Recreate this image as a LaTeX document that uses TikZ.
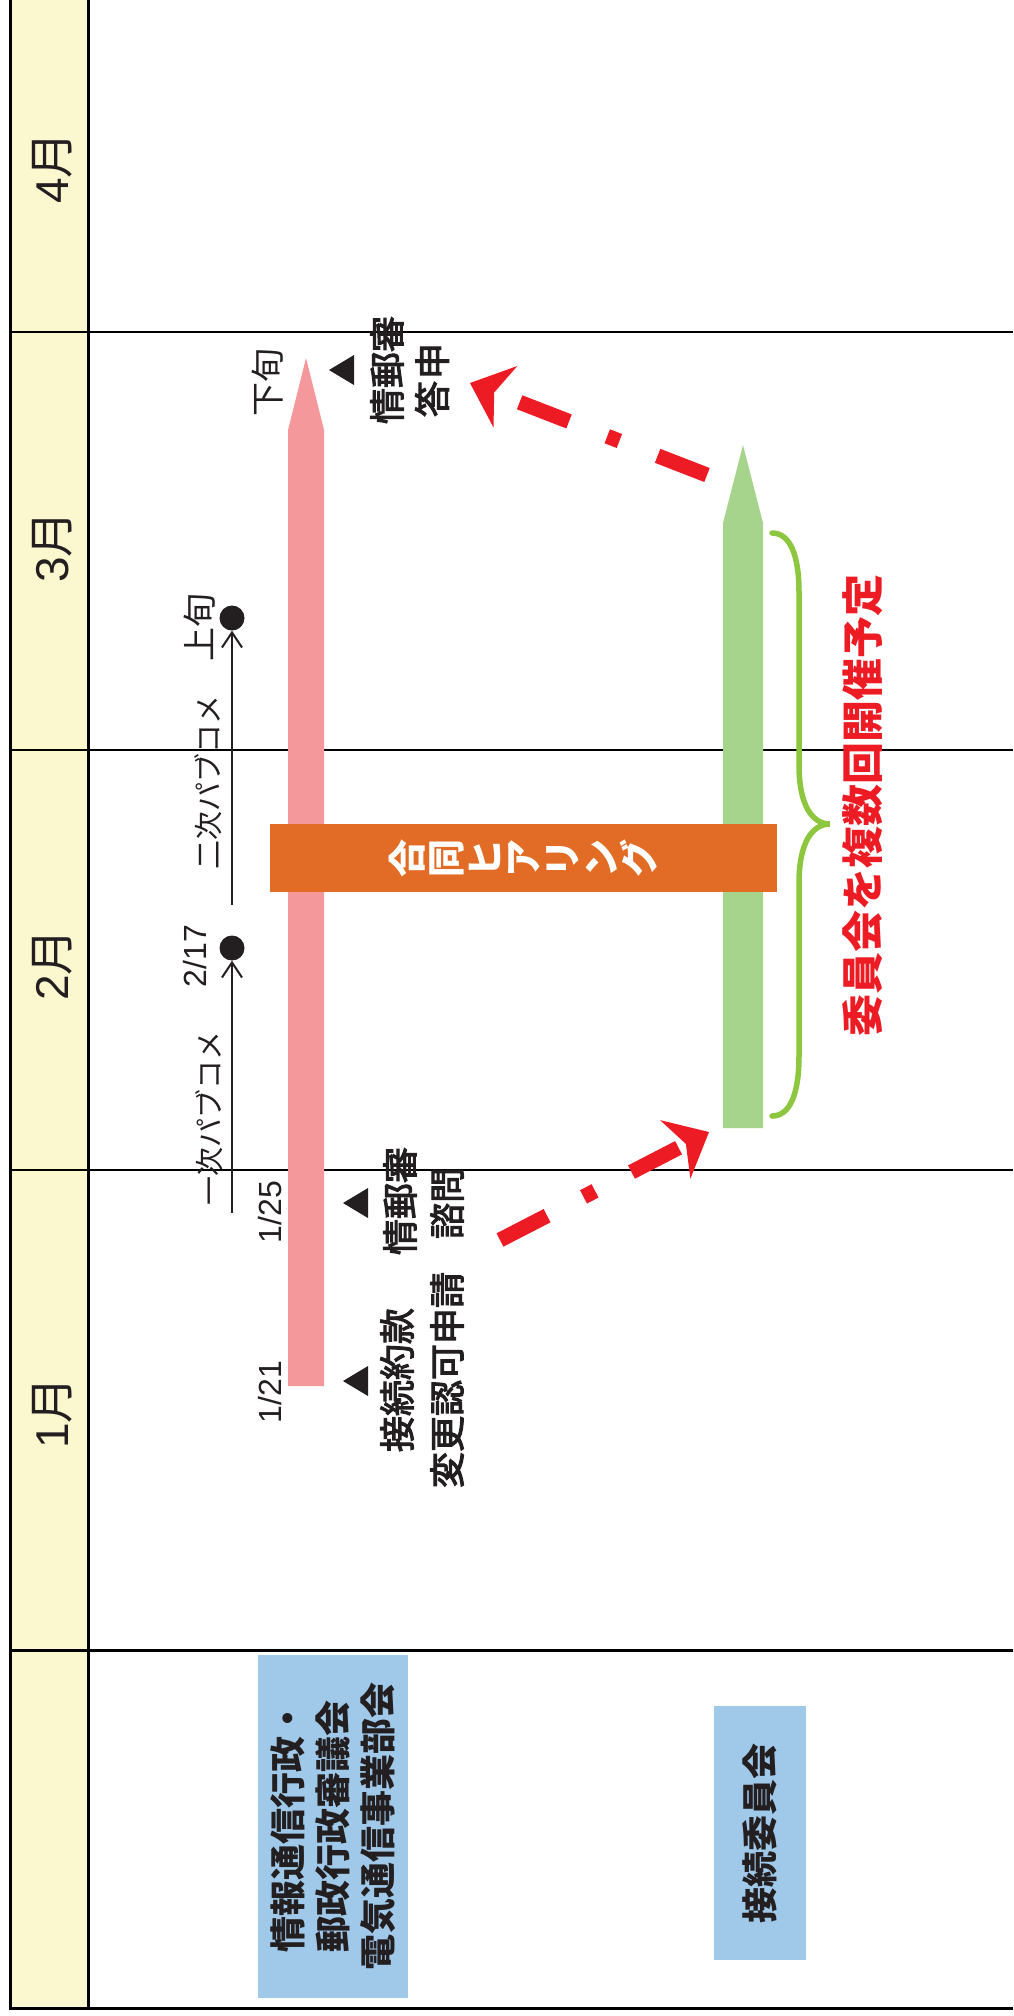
\documentclass[tikz,border=0pt]{standalone}
\usepackage{fontspec}
\setmainfont{Noto Sans CJK JP}
\newfontfamily\lat{Liberation Sans}
\newfontfamily\jpmed[FakeBold=3]{Noto Sans CJK JP}
\usetikzlibrary{arrows.meta}
\definecolor{hdr}{HTML}{FBF8CF}
\definecolor{ink}{HTML}{231F20}
\definecolor{pinkc}{HTML}{F5989B}
\definecolor{orangec}{HTML}{E26C25}
\definecolor{greenc}{HTML}{A7D48C}
\definecolor{bracec}{HTML}{8DC63F}
\definecolor{bluec}{HTML}{9FC8E9}
\definecolor{redc}{HTML}{ED1C24}
\newcommand{\setfs}[2]{\fontsize{#1}{#2}\selectfont}
\begin{document}
\begin{tikzpicture}[x=1pt,y=-1pt,
  frame/.style={line width=3pt,draw=black,line join=miter},
  mline/.style={line width=2.6pt,draw=black},
  lbl/.style={rotate=90,inner sep=0pt,text=ink},
  mon/.style={lbl,font=\setfs{46}{48}},
  evt/.style={lbl,font=\setfs{36}{38}\jpmed},
  dotn/.style={circle,fill=ink,minimum size=25pt,inner sep=0pt},
  pub/.style={line width=2pt,draw=ink,-{Straight Barb[length=15pt,width=20pt]}},
  reddash/.style={draw=redc,line width=15pt,dash pattern=on 53pt off 41pt on 13pt off 41pt,
     -{Stealth[length=38pt,width=66pt,inset=12pt,line width=0pt]}},
  boxn/.style={rotate=90,fill=bluec,inner sep=0pt,align=center,text=ink},
  brace/.style={draw=bracec,line width=5.5pt,line cap=round}]
\useasboundingbox (0,0) rectangle (1013,2016);
% header column
\fill[hdr] (10,0) rectangle (88,2008);
% month lines
\draw[mline] (10,332) -- (1013,332);
\draw[mline] (10,750) -- (1013,750);
\draw[mline] (10,1170) -- (1013,1170);
\draw[frame] (10,1650) -- (1013,1650);
\draw[frame] (10,0) -- (10,2008) -- (1013,2008);
\draw[frame] (88,0) -- (88,2008);
% month labels
\node[mon] (m4) at (52,168) {{\lat 4}月};
\node[mon] (m3) at (52,547) {{\lat 3}月};
\node[mon] (m2) at (52,965) {{\lat 2}月};
\node[mon] (m1) at (52,1413) {{\lat 1}月};
% pink bar
\fill[pinkc] (288,1386) -- (288,430) -- (306,358) -- (324,430) -- (324,1386) -- cycle;
% green bar
\fill[greenc] (723,1128) -- (723,523) -- (743,445) -- (763,523) -- (763,1128) -- cycle;
% orange box
\node[rotate=90,fill=orangec,text=white,inner sep=0pt,minimum width=68pt,minimum height=507pt,
  align=center,font=\setfs{38}{38.7}\bfseries] (godo) at (523.5,858) {合\\同\\ヒ\\ア\\リ\\ン\\グ};
% brace
\draw[brace] (772,533) .. controls (790,533) and (799,555) .. (799,592) -- (799,765)
  .. controls (799,805) and (812,824) .. (830,824)
  .. controls (812,824) and (799,843) .. (799,883) -- (799,1056)
  .. controls (799,1094) and (790,1116) .. (772,1116);
\node[lbl,text=redc,font=\setfs{42}{44}\bfseries] (plan) at (863,805) {委員会を複数回開催予定};
% red dashed arrows
\coordinate (r1s) at (707,475);
\coordinate (r1t) at (470,383);
\coordinate (r2s) at (500,1240);
\coordinate (r2t) at (709,1132);
\draw[reddash] (r1s) -- (r1t);
\draw[reddash] (r2s) -- (r2t);
% pubcom arrows
\node[dotn] (d1) at (232,948) {};
\node[dotn] (d2) at (232,618) {};
\coordinate (a1) at (232,1213);
\coordinate (a2) at (232,905);
\draw[pub] (a1) -- (d1);
\draw[pub] (a2) -- (d2);
\node[lbl,font=\setfs{29}{31}] (p1) at (209,1118) {一次パブコメ};
\node[lbl,font=\setfs{29}{31}] (p2) at (208,782) {二次パブコメ};
\node[lbl,font=\setfs{32}{34}\lat] (t217) at (195,956) {2/17};
\node[lbl,font=\setfs{34}{36}] (jo) at (200,627) {上旬};
\node[lbl,font=\setfs{34}{36}] (ge) at (268,382) {下旬};
\node[lbl,font=\setfs{32}{34}\lat] (t125) at (270,1212) {1/25};
\node[lbl,font=\setfs{32}{34}\lat] (t121) at (270,1392) {1/21};
% triangles
\fill[ink] (329,370) -- (354,355) -- (354,385) -- cycle;
\fill[ink] (343,1203) -- (368,1188) -- (368,1218) -- cycle;
\fill[ink] (343,1381) -- (368,1366) -- (368,1396) -- cycle;
% event labels
\node[evt] (e1a) at (387,370) {情郵審};
\node[evt] (e1b) at (432,380) {答\kern2pt 申};
\node[evt] (e2a) at (400,1201) {情郵審};
\node[evt] (e2b) at (447,1203) {諮問};
\node[evt] (e3a) at (397,1380) {接続約款};
\node[evt] (e3b) at (447,1380) {変更認可申請};
% row boxes
\node[boxn,minimum width=343pt,minimum height=150pt,font=\setfs{36}{45}\bfseries] (bx1) at (333,1826.5)
  {情報通信行政・\\郵政行政審議会\\電気通信事業部会};
\node[boxn,minimum width=254pt,minimum height=92pt,font=\setfs{36}{40}\bfseries] (bx2) at (760,1833) {接続委員会};
\end{tikzpicture}
\end{document}
